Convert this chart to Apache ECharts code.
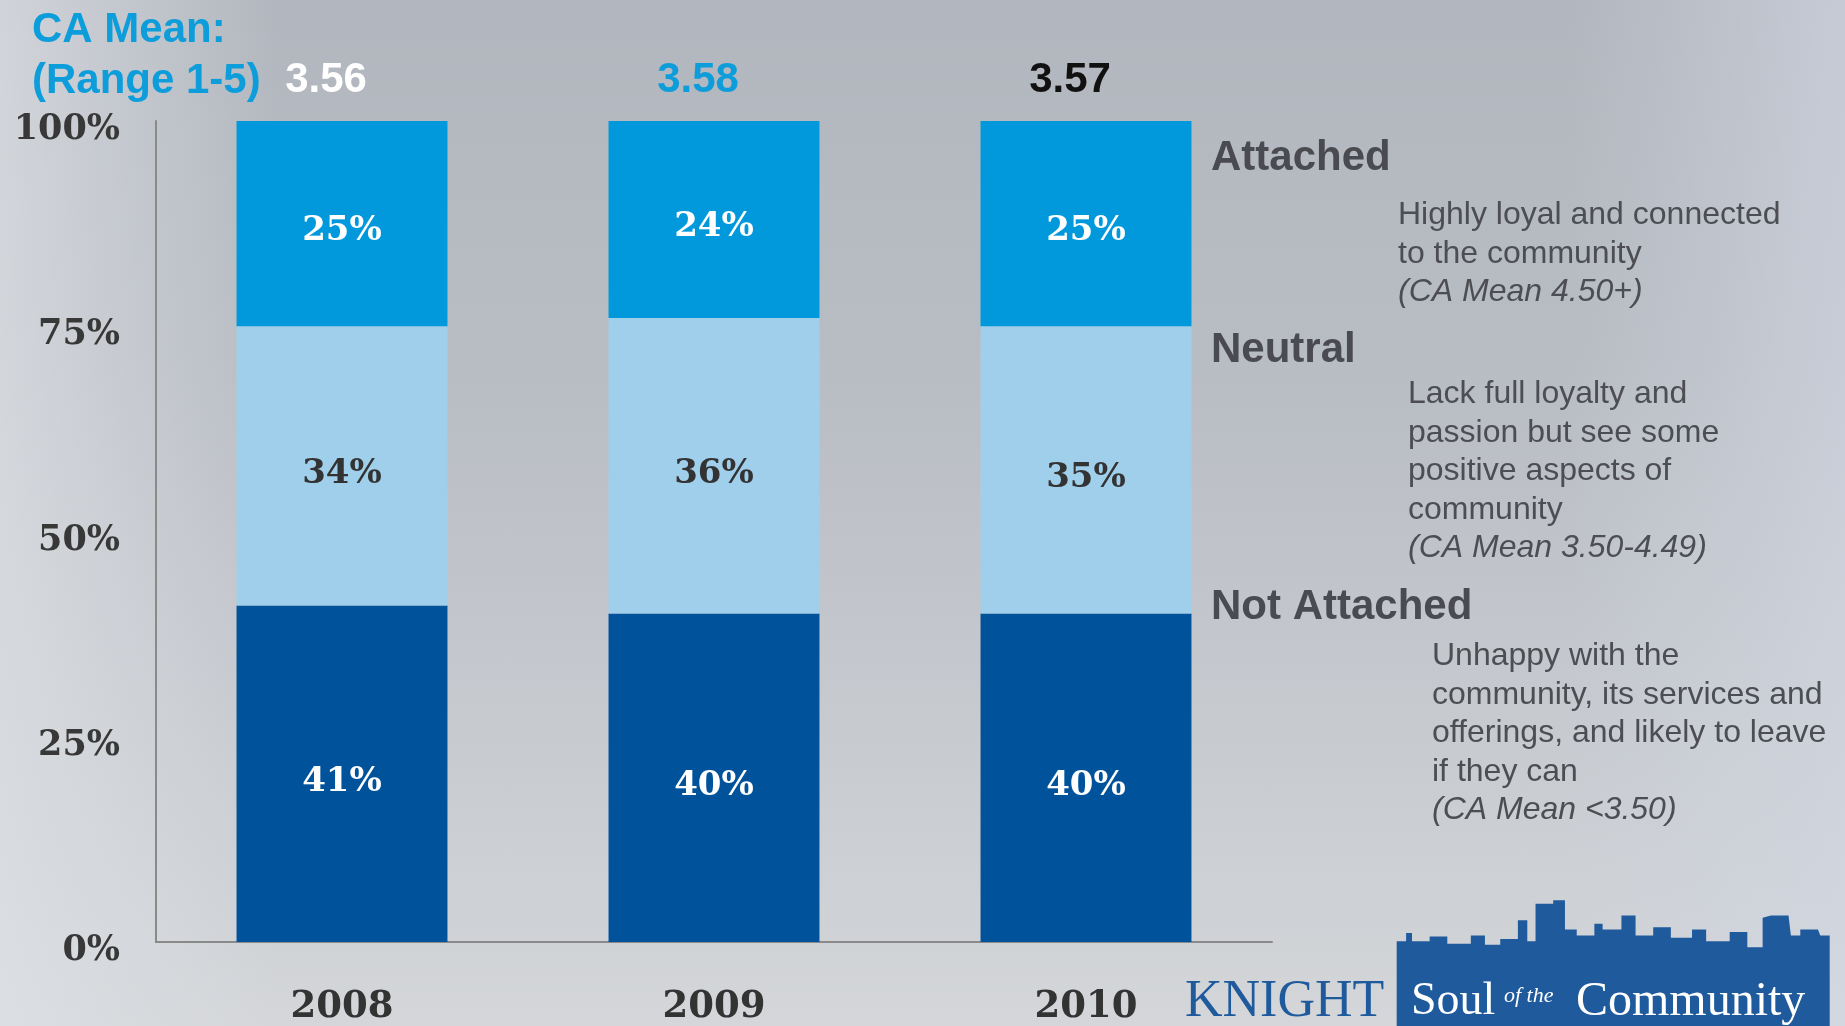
<!DOCTYPE html>
<html><head><meta charset="utf-8">
<script src="https://cdn.jsdelivr.net/npm/echarts/dist/echarts.min.js"></script>
<style>
html,body{margin:0;padding:0;overflow:hidden;}
#c{width:1845px;height:1026px;background:
 linear-gradient(90deg, rgba(222,226,230,0.7) 0%, rgba(222,226,230,0) 15%, rgba(0,0,0,0) 85%, rgba(210,216,228,0.6) 100%),
 linear-gradient(180deg, #b2b6be 0%, #b8bcc3 35%, #cdd0d4 85%, #d4d6d9 100%);}
</style></head>
<body><div id="c"></div>
<script>
const years = ['2008', '2009', '2010'];
const notAttached = [41, 40, 40];
const neutral = [34, 36, 35];
const attached = [25, 24, 25];
const caMean = [3.56, 3.58, 3.57];
const caMeanColors = ['#ffffff', '#0d9ddb', '#111111'];

const chart = echarts.init(document.getElementById('c'), null, {renderer: 'canvas'});
const serif = 'DejaVu Serif';
const sans = 'Liberation Sans';
const S = 1845 / 1568;
const sky = [[1187,872],[1187,800],[1195,800],[1195,793],[1200,793],[1200,800],[1215,800],[1215,796],[1230,796],[1230,802],[1250,802],[1250,795],[1262,795],[1262,803],[1275,803],[1275,798],[1290,798],[1290,782],[1298,782],[1298,800],[1305,800],[1305,768],[1320,768],[1320,765],[1330,765],[1330,790],[1340,790],[1340,795],[1355,795],[1355,785],[1362,785],[1362,790],[1378,790],[1378,778],[1390,778],[1390,795],[1405,795],[1405,788],[1420,788],[1420,797],[1438,797],[1438,790],[1450,790],[1450,800],[1470,800],[1470,792],[1485,792],[1485,805],[1498,805],[1498,780],[1505,778],[1520,778],[1522,795],[1530,795],[1530,790],[1545,790],[1547,795],[1555,795],[1555,872]].map(p => [p[0]*S, p[1]*S]);

function segLabel(color) {
  return {show: true, position: 'inside', formatter: '{c}%', color: color, offset: [0, 8],
    fontFamily: serif, fontWeight: 'bold', fontSize: 34};
}
const headStyle = {font: 'bold 42px "Liberation Sans"', fill: '#4a4b50', verticalAlign: 'middle', align: 'left'};
const descFont = '32px "Liberation Sans"';
const rich = {i: {fontStyle: 'italic', font: 'italic 32px "Liberation Sans"', fill: '#4d4e53', lineHeight: 38.5}};

const option = {
  animation: false,
  grid: {left: 156, right: 573, top: 121, bottom: 79},
  xAxis: {
    type: 'category', data: years,
    axisLine: {show: true, lineStyle: {color: '#8a8a8a', width: 2}},
    axisTick: {show: false},
    axisLabel: {margin: 47, color: '#333', fontFamily: serif, fontWeight: 'bold', fontSize: 37}
  },
  yAxis: {
    type: 'value', min: 0, max: 100, interval: 25,
    axisLine: {show: true, lineStyle: {color: '#8a8a8a', width: 2}},
    axisTick: {show: false},
    splitLine: {show: false},
    axisLabel: {margin: 36, formatter: '{value}%', color: '#383838', fontFamily: serif, fontWeight: 'bold', fontSize: 35,
      verticalAlign: 'top', lineHeight: 18}
  },
  series: [
    {name: 'Not Attached', type: 'bar', stack: 's', barWidth: '56.7%', data: notAttached,
      itemStyle: {color: '#00529b'}, label: segLabel('#ffffff')},
    {name: 'Neutral', type: 'bar', stack: 's', barWidth: '56.7%', data: neutral,
      itemStyle: {color: '#a0cfec'}, label: segLabel('#333333')},
    {name: 'Attached', type: 'bar', stack: 's', barWidth: '56.7%', data: attached,
      itemStyle: {color: '#0199dc'}, label: segLabel('#ffffff')},
    {name: 'CA Mean', type: 'scatter', symbolSize: 0, silent: true, clip: false,
      itemStyle: {color: '#0199dc', opacity: 1},
      data: caMean.map((v, i) => ({value: [years[i], 100], label: {color: caMeanColors[i]}})),
      label: {show: true, position: 'top', distance: 20, offset: [-16, 0],
        formatter: p => caMean[p.dataIndex].toFixed(2),
        fontFamily: sans, fontWeight: 'bold', fontSize: 42, opacity: 1}}
  ],
  graphic: [
    {type: 'text', left: 32, top: 9, style: {text: 'CA Mean:', font: 'bold 42px "Liberation Sans"', fill: '#0d9ddb'}},
    {type: 'text', left: 32, top: 60, style: {text: '(Range 1-5)', font: 'bold 42px "Liberation Sans"', fill: '#0d9ddb'}},
    {type: 'text', x: 1211, y: 158, style: Object.assign({text: 'Attached'}, headStyle)},
    {type: 'text', x: 1398, y: 196, style: {text: 'Highly loyal and connected\nto the community\n{i|(CA Mean 4.50+)}', font: descFont, fill: '#4d4e53', lineHeight: 38.5, verticalAlign: 'top', rich: rich}},
    {type: 'text', x: 1211, y: 350, style: Object.assign({text: 'Neutral'}, headStyle)},
    {type: 'text', x: 1408, y: 375, style: {text: 'Lack full loyalty and\npassion but see some\npositive aspects of\ncommunity\n{i|(CA Mean 3.50-4.49)}', font: descFont, fill: '#4d4e53', lineHeight: 38.5, verticalAlign: 'top', rich: rich}},
    {type: 'text', x: 1211, y: 607, style: Object.assign({text: 'Not Attached'}, headStyle)},
    {type: 'text', x: 1432, y: 637, style: {text: 'Unhappy with the\ncommunity, its services and\nofferings, and likely to leave\nif they can\n{i|(CA Mean <3.50)}', font: descFont, fill: '#4d4e53', lineHeight: 38.5, verticalAlign: 'top', rich: rich}},
    {type: 'polygon', shape: {points: sky}, style: {fill: '#1f5a9c'}},
    {type: 'text', x: 1185, y: 1002, style: {text: 'KNIGHT', font: '52px "Liberation Serif"', fill: '#1f5a9c', verticalAlign: 'middle'}},
    {type: 'text', x: 1411, y: 1002, style: {text: 'Soul', font: '46px "Liberation Serif"', fill: '#ffffff', verticalAlign: 'middle'}},
    {type: 'text', x: 1504, y: 996, style: {text: 'of the', font: 'italic 22px "Liberation Serif"', fill: '#ffffff', verticalAlign: 'middle'}},
    {type: 'text', x: 1576, y: 1002, style: {text: 'Community', font: '48px "Liberation Serif"', fill: '#ffffff', verticalAlign: 'middle'}}
  ]
};
chart.setOption(option);
</script>
</body></html>
